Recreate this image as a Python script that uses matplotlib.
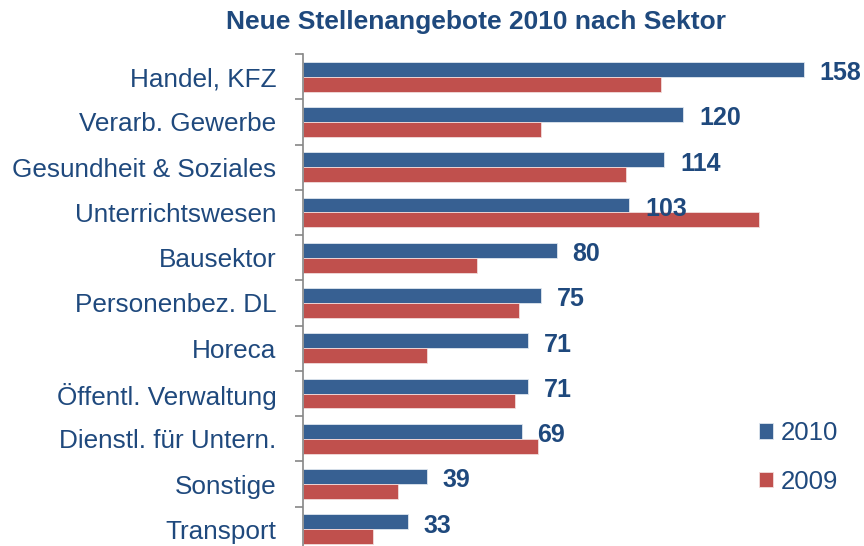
import matplotlib.pyplot as plt
import numpy as np

plt.rcParams['font.family'] = ['Liberation Sans', 'DejaVu Sans']

sectors = ["Handel, KFZ", "Verarb. Gewerbe", "Gesundheit & Soziales",
           "Unterrichtswesen", "Bausektor", "Personenbez. DL", "Horeca",
           "Öffentl. Verwaltung", "Dienstl. für Untern.", "Sonstige", "Transport"]
v2010 = [158, 120, 114, 103, 80, 75, 71, 71, 69, 39, 33]
v2009 = [113, 75, 102, 144, 55, 68, 39, 67, 74, 30, 22]

blue = '#376092'
red = '#C0504D'
txt = '#1F497D'

fig = plt.figure(figsize=(8.64, 5.46), dpi=100)
ax = fig.add_axes([303/864, -6/546, 1 - 303/864, 498/546])

y = np.arange(len(sectors))
h = 0.33
ax.barh(y - h/2, v2010, height=h, color=blue, edgecolor='#dfe6ef', linewidth=0.6, label='2010')
ax.barh(y + h/2, v2009, height=h, color=red, edgecolor='#f2dcdb', linewidth=0.6, label='2009')

for yi, v in zip(y, v2010):
    ax.text(v + 5, yi - 0.08, str(v), ha='left', va='center',
            fontsize=18, fontweight='bold', color=txt)

ax.set_xlim(0, 177)
ax.set_ylim(len(sectors) - 0.5, -0.5)
ax.set_xticks([])
ax.set_yticks(y)
ax.set_yticklabels(sectors, fontsize=18.8, color=txt)
ax.set_yticks(np.arange(len(sectors) + 1) - 0.5, minor=True)
ax.tick_params(axis='y', which='major', length=0, pad=19)
ax.tick_params(axis='y', which='minor', length=6, width=1.2, color='#868686', direction='out')
for s in ['top', 'right', 'bottom']:
    ax.spines[s].set_visible(False)
ax.spines['left'].set_color('#868686')
ax.spines['left'].set_linewidth(1.2)

fig.legend(loc='upper left', bbox_to_anchor=(736/864, 1 - 398/546), frameon=False,
           fontsize=18.5, handlelength=0.55, handleheight=0.55, handletextpad=0.3,
           labelspacing=0.95, labelcolor=txt)

fig.text(476/864, 1 - 22/546, "Neue Stellenangebote 2010 nach Sektor", ha='center', va='center',
         fontsize=19, fontweight='bold', color=txt)

fig.savefig('out.png', dpi=100)
